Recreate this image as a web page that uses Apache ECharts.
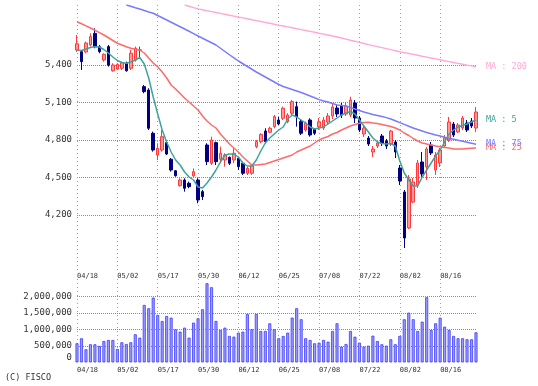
<!DOCTYPE html>
<html><head><meta charset="utf-8">
<script src="https://cdn.jsdelivr.net/npm/echarts@6/dist/echarts.min.js"></script>
<style>html,body{margin:0;padding:0;background:#fff}#c{width:538px;height:386px}</style>
</head><body><div id="c"></div>
<script>
const dates = ['04/18','04/19','04/22','04/23','04/24','04/25','04/26','04/30','05/01',
 '05/02','05/07','05/08','05/09','05/10','05/13','05/14','05/15','05/16',
 '05/17','05/20','05/21','05/22','05/23','05/24','05/27','05/28','05/29',
 '05/30','05/31','06/03','06/04','06/05','06/06','06/07','06/10','06/11',
 '06/12','06/13','06/14','06/17','06/18','06/19','06/20','06/21','06/24',
 '06/25','06/26','06/27','06/28','07/01','07/02','07/03','07/04','07/05',
 '07/08','07/09','07/10','07/11','07/12','07/16','07/17','07/18','07/19',
 '07/22','07/23','07/24','07/25','07/26','07/29','07/30','07/31','08/01',
 '08/02','08/05','08/06','08/07','08/08','08/09','08/13','08/14','08/15',
 '08/16','08/19','08/20','08/21','08/22','08/23','08/26','08/27','08/28'];

const opens = [5520,5507,5504,5560,5653,5547,5440,5547,5354,5368,
 5374,5414,5374,5440,5520,5227,5200,4854,4680,4720,
 4779,4646,4554,4435,4480,4454,4512,4480,4387,4760,
 4614,4779,4647,4640,4662,4640,4654,4614,4534,4534,
 4747,4787,4872,4862,4907,4960,4974,4947,5014,5067,
 4947,4880,4960,4885,4906,4896,4944,4992,5056,5072,
 5008,5000,5096,4976,4848,4816,4704,4752,4832,4792,
 4768,4784,4576,4384,4096,4304,4440,4624,4584,4760,
 4560,4616,4752,4800,4928,4864,4896,4936,4952,4896];
const closes = [5570,5427,5576,5627,5547,5507,5486,5400,5400,5405,
 5418,5354,5494,5534,5520,5187,4894,4720,4734,4827,
 4688,4560,4514,4480,4414,4427,4547,4320,4347,4627,
 4800,4627,4694,4680,4614,4694,4587,4534,4574,4594,
 4787,4845,4787,4894,4987,4928,5054,5000,5107,4987,
 4854,4934,4840,4854,4946,4960,4992,5064,5008,5000,
 5072,5120,4976,4880,4896,4768,4728,4776,4776,4752,
 4872,4704,4472,4016,4488,4464,4616,4528,4728,4696,
 4680,4720,4816,4944,4840,4920,4976,4880,4912,5024];
const lows = [5505,5360,5494,5547,5534,5494,5427,5387,5347,5360,
 5360,5347,5360,5427,5454,5174,4880,4707,4640,4707,
 4680,4547,4507,4427,4387,4414,4507,4294,4320,4600,
 4600,4600,4614,4587,4600,4614,4560,4520,4520,4520,
 4734,4774,4774,4854,4894,4920,4960,4934,5000,4907,
 4840,4867,4827,4840,4880,4880,4928,4968,4984,4976,
 4992,4984,4936,4864,4824,4752,4664,4736,4752,4728,
 4752,4656,4440,3936,4088,4296,4416,4504,4480,4680,
 4520,4584,4736,4784,4824,4856,4880,4864,4896,4864];
const highs = [5640,5520,5587,5653,5693,5560,5493,5560,5414,5414,
 5427,5427,5520,5547,5547,5240,5214,4867,4774,4880,
 4787,4656,4560,4494,4494,4467,4573,4494,4400,4774,
 4827,4787,4747,4694,4667,4734,4667,4627,4587,4600,
 4800,4854,4894,4907,5000,4987,5067,5014,5120,5107,
 4960,4947,4974,4894,4976,4984,5016,5096,5080,5096,
 5096,5146,5120,4992,4920,4832,4752,4784,4848,4808,
 4880,4800,4600,4400,4520,4496,4640,4704,4744,4784,
 4704,4736,4840,4984,4944,4936,4992,4960,4976,5064];

const ma5 = [5520,5516,5528,5540,5546,5544,5524,5496,5464,5436,
 5420,5414,5424,5440,5460,5408,5296,5144,5008,4880,
 4784,4704,4640,4600,4544,4504,4480,4424,4416,4456,
 4504,4560,4624,4680,4688,4688,4664,4616,4592,4592,
 4640,4712,4776,4816,4848,4880,4904,4968,5000,4984,
 4960,4936,4904,4888,4896,4904,4928,4952,4976,5000,
 5016,5028,5008,4960,4912,4864,4816,4784,4772,4768,
 4772,4752,4632,4536,4480,4432,4432,4504,4560,4616,
 4672,4720,4784,4848,4880,4904,4916,4928,4944,4960];
const ma25 = [5746,5730,5713,5696,5678,5659,5640,5618,5596,5574,
 5560,5546,5534,5526,5520,5496,5456,5416,5386,5344,
 5296,5240,5208,5172,5136,5104,5072,5040,4992,4952,
 4920,4896,4848,4808,4768,4736,4704,4664,4632,4600,
 4600,4604,4608,4620,4632,4644,4656,4668,4680,4704,
 4720,4736,4752,4776,4800,4816,4828,4848,4860,4880,
 4896,4912,4924,4934,4940,4942,4936,4932,4924,4916,
 4908,4896,4880,4856,4836,4812,4792,4776,4768,4760,
 4752,4746,4740,4736,4728,4728,4728,4732,4734,4736];
const ma75 = [null,null,null,null,null,null,null,null,null,null,
 null,5880,5870,5858,5848,5836,5824,5814,5796,5778,
 5760,5742,5724,5706,5688,5670,5651,5632,5614,5596,
 5578,5560,5534,5508,5482,5457,5432,5410,5388,5366,
 5344,5324,5304,5284,5264,5244,5228,5216,5204,5192,
 5180,5166,5152,5138,5123,5112,5104,5092,5080,5076,
 5072,5060,5048,5036,5024,5014,5004,4996,4988,4979,
 4968,4954,4939,4925,4910,4896,4884,4872,4860,4850,
 4840,4832,4822,4814,4806,4798,4790,4782,4774,4766];
const ma200 = [null,null,null,null,null,null,null,null,null,null,
 null,null,null,null,null,null,null,null,null,null,
 null,null,null,null,5880,5870,5859,5849,5842,5834,
 5827,5820,5813,5806,5798,5791,5784,5777,5770,5762,
 5755,5748,5741,5734,5726,5719,5712,5705,5698,5690,
 5683,5676,5669,5662,5654,5647,5640,5632,5624,5616,
 5607,5598,5590,5581,5572,5563,5555,5547,5539,5531,
 5523,5515,5506,5499,5492,5485,5478,5470,5463,5456,
 5449,5442,5434,5427,5420,5413,5406,5399,5393,5386];

const volumes = [582000,735000,400000,552000,552000,500000,652000,683000,683000,408000,
 613000,561000,613000,857000,754000,1750000,1649000,1973000,1445000,1262000,
 1414000,1363000,1008000,937000,1058000,754000,1211000,1344000,1618000,2411000,
 2290000,1262000,988000,1058000,805000,784000,906000,937000,1475000,1008000,
 1475000,957000,957000,1191000,1008000,735000,805000,906000,1363000,1649000,
 1314000,735000,683000,582000,601000,683000,631000,957000,1191000,479000,
 561000,957000,784000,601000,479000,509000,814000,652000,552000,509000,
 704000,552000,805000,1314000,1515000,1314000,957000,1241000,1985000,988000,
 1191000,1363000,1088000,988000,805000,735000,735000,704000,704000,917000];

const priceTicks = [4200,4500,4800,5100,5400];
const volTicks = [0,500000,1000000,1500000,2000000];

const FONT = 'DejaVu Sans Mono';
const fmt = v => Number(v).toLocaleString('en-US');
const GRID = '#8c8c8c';
const NONE = 'rgba(255,255,255,0)';

const candleData = opens.map((o, i) => {
  const item = {value: [o, closes[i], lows[i], highs[i]]};
  if (o === closes[i]) item.itemStyle = {color: '#008000', color0: '#008000', borderColor: '#008000', borderColor0: '#008000'};
  return item;
});

const xBase = (gi, margin) => ({
  type: 'category', gridIndex: gi, data: dates, boundaryGap: false,
  axisLine: {show: false}, axisTick: {show: false},
  axisLabel: {interval: 8, align: 'left', fontFamily: FONT, fontSize: 7, color: '#333', margin: margin},
  splitLine: {show: true, interval: 8, lineStyle: {color: '#a0a0a0', type: [1, 3], width: 1}}
});

const lineSeries = (name, data, color, label) => ({
  name, type: 'line', data, xAxisIndex: 0, yAxisIndex: 0,
  showSymbol: false, symbol: 'none', smooth: false, connectNulls: false,
  lineStyle: {color, width: 1.5}, itemStyle: {color},
  endLabel: {show: true, formatter: label, color, fontFamily: FONT, fontSize: 8.5, distance: 10},
  z: 3, silent: true
});

const chart = echarts.init(document.getElementById('c'), null, {renderer: 'canvas'});
chart.setOption({
  animation: false,
  backgroundColor: '#fff',
  grid: [
    {left: 77, right: 62, top: 5, height: 265},
    {left: 77, right: 62, top: 279, height: 83.4}
  ],
  xAxis: [xBase(0, 3), xBase(1, 4)],
  yAxis: [
    // ticks from 3760: 3760, 3900, 4200 ... 5700, 5880 -> only 4200..5400 are drawn
    {type: 'value', gridIndex: 0, min: 3760, max: 5880, splitNumber: 7,
     axisLine: {show: false}, axisTick: {show: false},
     splitLine: {show: true, lineStyle: {type: 'dotted', width: 1,
       color: [NONE, NONE, GRID, GRID, GRID, GRID, GRID, NONE, NONE]}},
     axisLabel: {customValues: priceTicks, formatter: fmt, fontFamily: FONT, fontSize: 9, color: '#333', margin: 5}},
    // ticks: 0, 500k ... 2.5M, 2.54M -> only 500k..2M are drawn
    {type: 'value', gridIndex: 1, min: 0, max: 2540000, splitNumber: 5,
     axisLine: {show: false}, axisTick: {show: false},
     splitLine: {show: true, lineStyle: {type: 'dotted', width: 1,
       color: [NONE, GRID, GRID, GRID, GRID, NONE, NONE]}},
     axisLabel: {customValues: volTicks, formatter: fmt, fontFamily: FONT, fontSize: 9, color: '#333', margin: 5,
                 verticalAlignMinLabel: 'bottom'}}
  ],
  series: [
    {type: 'candlestick', xAxisIndex: 0, yAxisIndex: 0, data: candleData, barWidth: 3, clip: false,
     itemStyle: {color: '#ff9a9a', color0: '#000080', borderColor: '#ff3a3a', borderColor0: '#000080', borderWidth: 1},
     z: 2, silent: true},
    lineSeries('MA200', ma200, '#ffa8d8', 'MA : 200'),
    lineSeries('MA25', ma25, '#ff6a6a', 'MA : 25'),
    lineSeries('MA75', ma75, '#7a7aff', 'MA : 75'),
    lineSeries('MA5', ma5, '#3fa39b', 'MA : 5'),
    {type: 'bar', xAxisIndex: 1, yAxisIndex: 1, data: volumes, barWidth: 3, clip: false,
     itemStyle: {color: '#9c9cff', borderColor: '#3c3cff', borderWidth: 0.8},
     z: 2, silent: true}
  ],
  graphic: [
    {type: 'text', left: 5, top: 373, style: {text: '(C) FISCO', font: '8.5px "DejaVu Sans Mono"', fill: '#333'}}
  ]
});
</script></body></html>
